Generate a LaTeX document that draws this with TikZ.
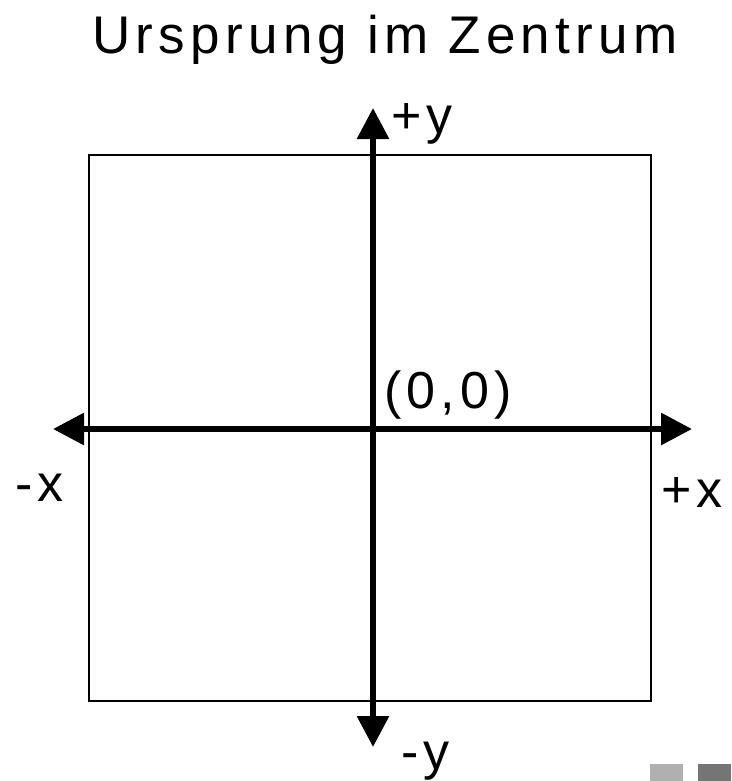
\documentclass[tikz,border=0pt]{standalone}
\usepackage{fontspec}
\setmainfont{Liberation Sans}[LetterSpace=10]
\usetikzlibrary{arrows.meta,positioning}
\definecolor{boxlight}{HTML}{B0B0B0}
\definecolor{boxdark}{HTML}{757575}

\begin{document}
\begin{tikzpicture}[
          x=1pt, y=-1pt,
          lbl/.style={font=\fontsize{52}{58}\selectfont, inner sep=0pt, anchor=base west},
          ttl/.style={font=\fontsize{53}{60}\selectfont, inner sep=0pt, anchor=base},
          axis/.style={line width=6pt, {Triangle[length=31pt,width=31pt]}-{Triangle[length=31pt,width=31pt]}},
          frame/.style={draw, line width=2.5pt}
      ]
        \useasboundingbox (0,0) rectangle (731,781);

        % Title
        \node[ttl] (title) at (385,54) {Ursprung im Zentrum};

        % Square
        \draw[frame] (89,155) rectangle (651,701);

        % Axes
        \coordinate (xl) at (53,429);
        \coordinate (xr) at (692,429);
        \coordinate (yt) at (373,108);
        \coordinate (yb) at (373,747);
        \draw[axis] (xl) -- (xr);
        \draw[axis] (yb) -- (yt);

        % Axis labels
        \node[lbl] (py) at (391,134) {+y};
        \node[lbl] (my) at (401,769) {-y};
        \node[lbl] (mx) at (15,501) {-x};
        \node[lbl] (px) at (661,507) {+x};
        \node[lbl] (orig) at (384,408) {(0,0)};

        % Slide markers
        \fill[boxlight] (650,764) rectangle (683,781);
        \fill[boxdark] (698,764) rectangle (731,781);
      \end{tikzpicture}
\end{document}
